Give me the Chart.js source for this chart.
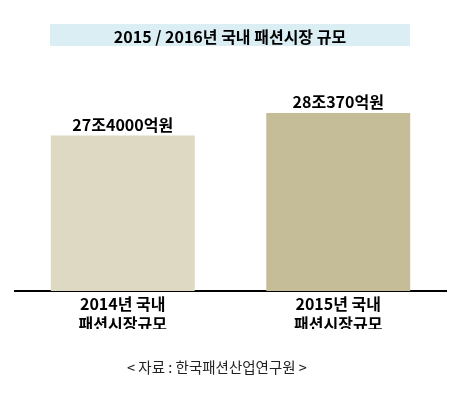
<!DOCTYPE html>
<html>
<head>
<meta charset="utf-8">
<script src="https://cdn.jsdelivr.net/npm/chart.js@4.4.1/dist/chart.umd.min.js"></script>
<style>
  html, body { margin: 0; padding: 0; background: #fff; }
  #wrap { position: relative; width: 468px; height: 393px; overflow: hidden; }
  #chart { position: absolute; left: 0; top: 0; }
  #title {
    position: absolute; left: 50px; top: 24px; width: 360px; height: 22px;
    background: #daeef3; text-align: center; line-height: 22px;
    font: bold 16px "Noto Sans CJK KR", "Noto Sans", sans-serif; color: #000;
  }
  #source {
    position: absolute; left: 0; width: 434px; top: 356px; text-align: center;
    font: 14.5px "Noto Sans CJK KR", "Noto Sans", sans-serif; color: #222;
  }
</style>
</head>
<body>
<div id="wrap">
  <canvas id="chart" width="468" height="393"></canvas>
  <div id="title">2015 / 2016년 국내 패션시장 규모</div>
  <div id="source">&lt; 자료 : 한국패션산업연구원 &gt;</div>
</div>
<script>
// market size, trillion won
const categories = [["2014년 국내", "패션시장규모"], ["2015년 국내", "패션시장규모"]];
const marketSize = [27.4, 28.037];
const valueLabels = ["27조4000억원", "28조370억원"];
const barColors = ["#ddd9c3", "#c4bd97"];

const KFONT = '"Noto Sans CJK KR", "Noto Sans", sans-serif';

// draws value text above each bar
const barValueLabels = {
  id: "barValueLabels",
  afterDatasetsDraw(chart) {
    const ctx = chart.ctx;
    const meta = chart.getDatasetMeta(0);
    ctx.save();
    ctx.font = "bold 16px " + KFONT;
    ctx.fillStyle = "#000";
    ctx.textAlign = "center";
    ctx.textBaseline = "bottom";
    meta.data.forEach(function (bar, i) {
      ctx.fillText(valueLabels[i], bar.x, bar.y - 3);
    });
    ctx.restore();
  }
};

new Chart(document.getElementById("chart"), {
  type: "bar",
  data: {
    labels: categories,
    datasets: [{
      data: marketSize,
      backgroundColor: barColors,
      borderWidth: 0,
      barPercentage: 0.668,
      categoryPercentage: 1
    }]
  },
  options: {
    responsive: false,
    animation: false,
    layout: { padding: { left: 15, right: 22, top: 79, bottom: 64 } },
    plugins: { legend: { display: false }, tooltip: { enabled: false } },
    scales: {
      x: {
        grid: { display: false },
        border: { display: true, color: "#000", width: 2 },
        ticks: {
          color: "#000",
          padding: -5,
          font: { family: KFONT, size: 16, weight: "bold", lineHeight: 1.25 }
        }
      },
      y: { display: false, min: 23, max: 29 }
    }
  },
  plugins: [barValueLabels]
});
</script>
</body>
</html>
